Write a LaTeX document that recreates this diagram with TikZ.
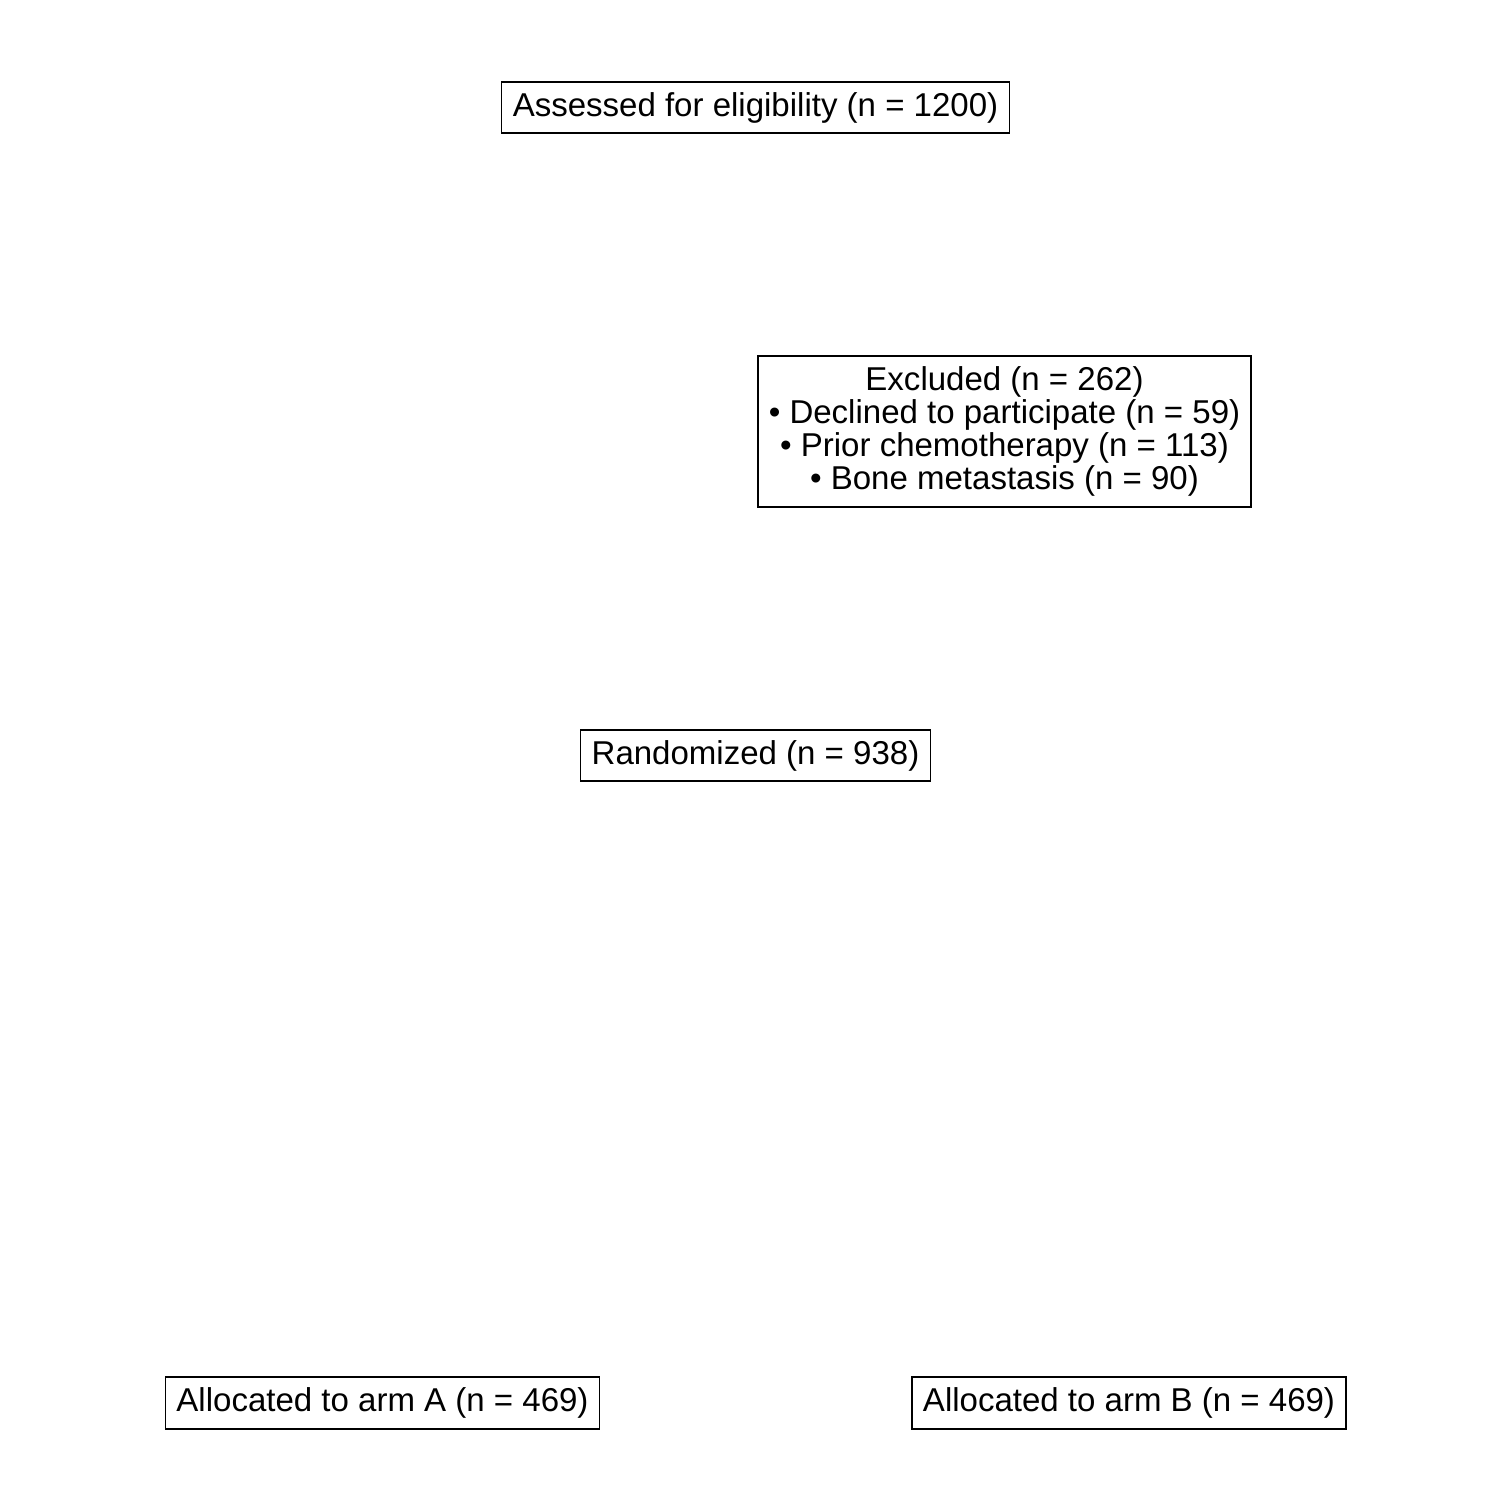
\documentclass[tikz,border=0pt]{standalone}
\usepackage{fontspec}
\setmainfont{Liberation Sans}
\begin{document}
\begin{tikzpicture}[x=0.01cm,y=-0.01cm,
  flowbox/.style={draw=black, line width=0.4pt, align=center, inner xsep=0.11cm, inner ysep=0pt,
    font=\fontsize{9.39pt}{9.39pt}\selectfont}]
\useasboundingbox[fill=white] (0,0) rectangle (1512,1512);
\node[flowbox, minimum height=0.51cm] (assessed) at (755.5,107.5) {Assessed for eligibility (n = 1200)};
\node[flowbox, minimum height=1.51cm] (excluded) at (1004.5,431.5) {Excluded (n = 262)\\\textbullet{} Declined to participate (n = 59)\\\textbullet{} Prior chemotherapy (n = 113)\\\textbullet{} Bone metastasis (n = 90)};
\node[flowbox, minimum height=0.51cm] (random) at (755.5,755.5) {Randomized (n = 938)};
\node[flowbox, minimum height=0.52cm] (armA) at (382.5,1403) {Allocated to arm A (n = 469)};
\node[flowbox, minimum height=0.52cm] (armB) at (1129,1403) {Allocated to arm B (n = 469)};
\end{tikzpicture}
\end{document}
